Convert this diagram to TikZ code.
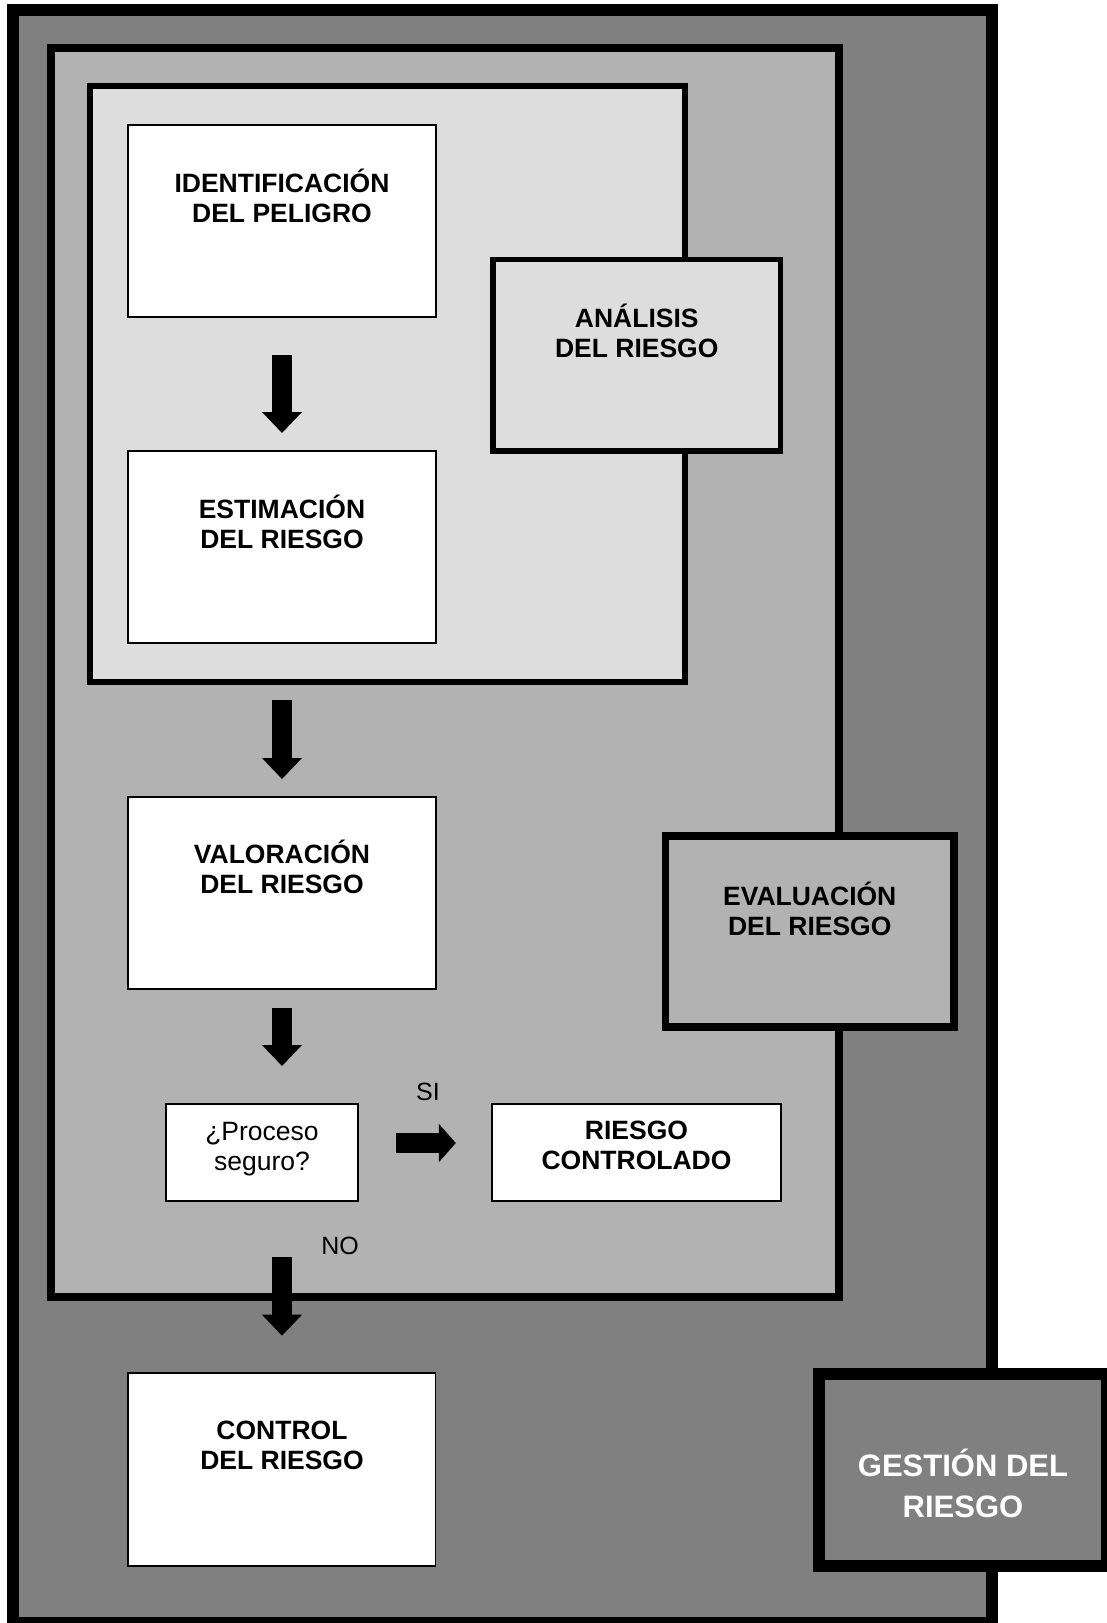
\documentclass[tikz,border=0pt]{standalone}
\usepackage{fontspec}
\setmainfont{Liberation Sans}
\usetikzlibrary{arrows.meta}
\definecolor{gdark}{HTML}{808080}
\definecolor{gmid}{HTML}{B2B2B2}
\definecolor{glight}{HTML}{DDDDDD}
\newcommand\twolines[2]{\begin{tabular}[t]{@{}c@{}}#1\\#2\end{tabular}}
\tikzset{
  frame/.style={draw=black, rectangle, inner sep=0pt, outer sep=0pt},
  whitebox/.style={draw=black, fill=white, line width=1.3pt, rectangle, inner sep=0pt, outer sep=0pt},
  boxtext/.style={anchor=base, inner sep=0pt, outer sep=0pt, font=\fontsize{26.5pt}{30pt}\selectfont\bfseries},
  plaintext/.style={anchor=base, inner sep=0pt, outer sep=0pt, font=\fontsize{26.5pt}{30pt}\selectfont},
  yesno/.style={anchor=base, inner sep=0pt, outer sep=0pt, font=\fontsize{25pt}{30pt}\selectfont},
  downarrow/.style={draw=black, line width=20.6pt, -{Triangle[width=40pt,length=21pt,line width=0pt]}},
  rightarrow/.style={draw=black, line width=20.6pt, -{Triangle[width=38.5pt,length=17pt,line width=0pt]}},
}
\begin{document}
\begin{tikzpicture}[x=1pt, y=-1pt]
\useasboundingbox (0,0) rectangle (1107,1623);
% nested regions
\node[frame, fill=gdark, line width=12pt, minimum width=979pt, minimum height=1612.7pt] (gest) at (502.5,816.35) {};
\node[frame, fill=gmid, line width=8pt, minimum width=787.5pt, minimum height=1249pt] (evalreg) at (444.75,672.5) {};
\node[frame, fill=glight, line width=5.5pt, minimum width=595pt, minimum height=596pt] (anareg) at (387.5,384) {};
% white step boxes
\node[whitebox, minimum width=308pt, minimum height=192pt] (ident) at (282,221) {};
\node[whitebox, minimum width=308pt, minimum height=192pt] (estim) at (282,547) {};
\node[whitebox, minimum width=308pt, minimum height=192pt] (valor) at (282,893) {};
\node[whitebox, minimum width=307.5pt, minimum height=193pt] (control) at (281.75,1469.5) {};
\node[whitebox, minimum width=192pt, minimum height=97pt] (proceso) at (262,1152.5) {};
\node[whitebox, minimum width=289pt, minimum height=97pt] (riesgoc) at (636.5,1152.5) {};
% label boxes
\node[frame, fill=glight, line width=5.5pt, minimum width=287.5pt, minimum height=191.5pt] (analisis) at (636.75,355.25) {};
\node[frame, fill=gmid, line width=7.5pt, minimum width=288.5pt, minimum height=191pt] (evaluacion) at (809.75,931.5) {};
\node[frame, fill=gdark, line width=12pt, minimum width=288pt, minimum height=191.5pt] (gestion) at (963,1469.75) {};
% texts
\node[boxtext] (identT) at (282,192.3) {\twolines{IDENTIFICACIÓN}{DEL PELIGRO}};
\node[boxtext] (estimT) at (282,518) {\twolines{ESTIMACIÓN}{DEL RIESGO}};
\node[boxtext] (valorT) at (282,863.3) {\twolines{VALORACIÓN}{DEL RIESGO}};
\node[boxtext] (controlT) at (282,1439.3) {\twolines{CONTROL}{DEL RIESGO}};
\node[boxtext] (analisisT) at (636.75,327.7) {\twolines{ANÁLISIS}{DEL RIESGO}};
\node[boxtext] (evaluacionT) at (809.75,905) {\twolines{EVALUACIÓN}{DEL RIESGO}};
\node[boxtext] (riesgocT) at (636.5,1139.3) {\twolines{RIESGO}{CONTROLADO}};
\node[plaintext] (procesoT) at (262,1140) {\twolines{¿Proceso}{seguro?}};
\node[anchor=base, inner sep=0pt, text=white, font=\fontsize{31pt}{41pt}\selectfont\bfseries] (gestionT) at (963,1476.7) {\twolines{GESTIÓN DEL}{RIESGO}};
\node[yesno] (siT) at (428,1100) {SI};
\node[yesno] (noT) at (340,1254) {NO};
% arrows
\draw[downarrow, shorten <=38pt, shorten >=18pt] (ident.south) -- (estim.north);
\draw[downarrow, shorten <=18pt, shorten >=18pt] (ident.south |- anareg.south) -- (valor.north);
\draw[downarrow, shorten <=18.6pt, shorten >=38pt] (valor.south) -- (valor.south |- proceso.north);
\draw[downarrow, shorten <=56.3pt, shorten >=37.3pt] (valor.south |- proceso.south) -- (control.north -| valor.south);
\draw[rightarrow, shorten <=38pt, shorten >=36.2pt] ([yshift=9.5pt]proceso.east) -- ([yshift=9.5pt]riesgoc.west);
\end{tikzpicture}
\end{document}
